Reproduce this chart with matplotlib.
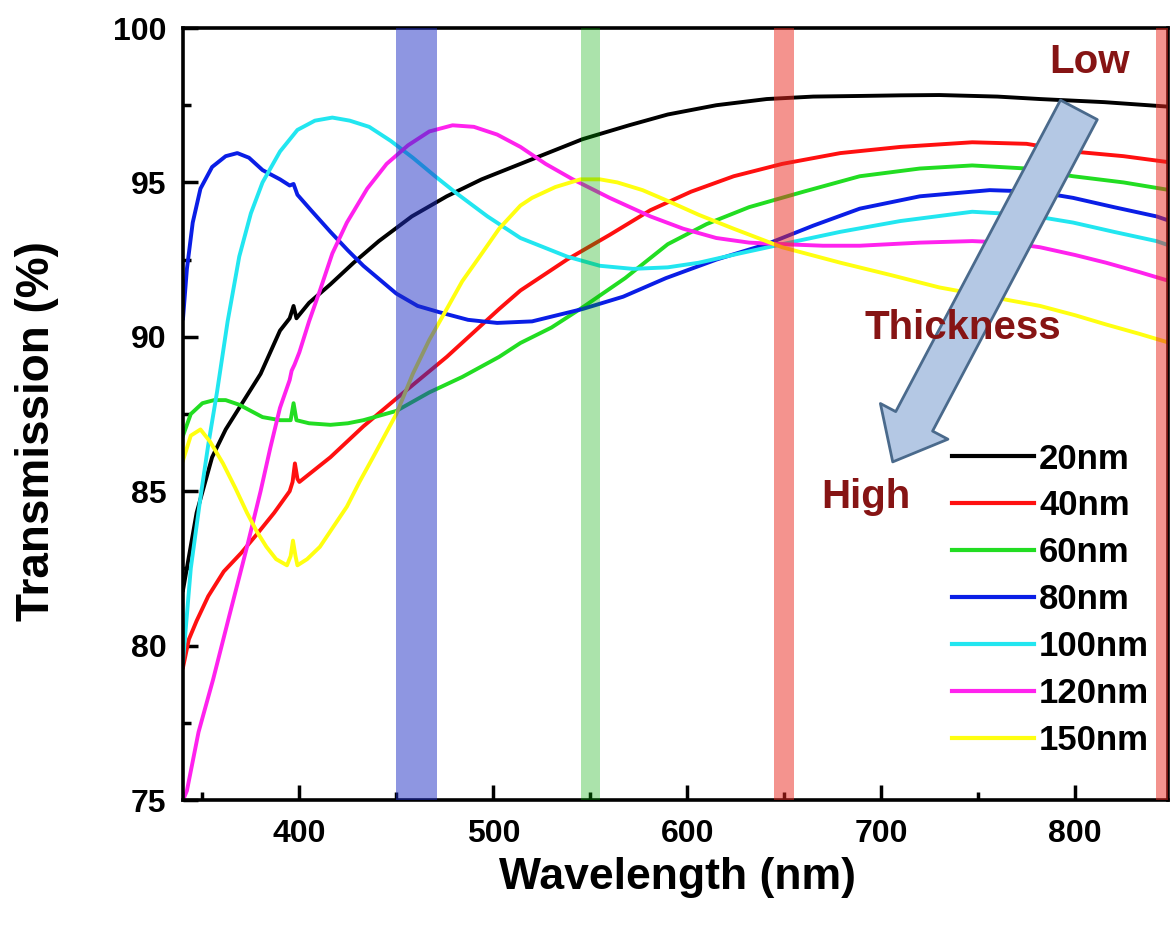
import matplotlib
matplotlib.use("Agg")
import matplotlib.pyplot as plt
from matplotlib.ticker import MultipleLocator

plt.rcParams["font.family"] = ["Liberation Sans", "DejaVu Sans"]
plt.rcParams["font.weight"] = "bold"

# transmission spectra (wavelength in nm, T in %)
wl_20 = [340, 347, 355, 362, 370, 380, 390, 395, 397, 398.5, 405, 416, 428, 441, 458, 476,
         494, 514, 530, 546, 570, 590, 615, 641, 665, 689, 710, 730, 760, 782, 815, 849]
t_20 = [81.8, 84.3, 86.1, 87.0, 87.8, 88.8, 90.2, 90.6, 91.0, 90.6, 91.1, 91.7, 92.4, 93.1, 93.9, 94.55,
        95.1, 95.6, 96.0, 96.4, 96.85, 97.2, 97.5, 97.7, 97.78, 97.8, 97.82, 97.83, 97.78, 97.7, 97.6, 97.45]

wl_40 = [340, 343, 347, 353, 361, 370, 378, 387, 395, 396.5, 397.7, 399, 400, 408, 416, 433, 450,
         476, 503, 514, 538, 560, 581, 602, 624, 649, 679, 710, 747, 775, 799, 825, 849]
t_40 = [79.3, 80.2, 80.8, 81.6, 82.4, 83.0, 83.6, 84.3, 85.0, 85.3, 85.9, 85.4, 85.3, 85.7, 86.1, 87.1, 88.0,
        89.35, 90.9, 91.5, 92.5, 93.3, 94.1, 94.7, 95.2, 95.6, 95.95, 96.15, 96.3, 96.25, 96.0, 95.85, 95.65]

wl_60 = [340, 344, 350, 356, 362, 369, 375, 381, 390, 395.5, 397, 398.5, 405, 416, 425, 433, 450,
         467, 484, 503, 514, 530, 546, 568, 590, 610, 632, 660, 689, 720, 747, 775, 799, 825, 849]
t_60 = [86.8, 87.5, 87.85, 87.95, 87.95, 87.8, 87.6, 87.4, 87.3, 87.3, 87.85, 87.3, 87.2, 87.15, 87.2, 87.3, 87.6,
        88.2, 88.7, 89.35, 89.8, 90.3, 90.95, 91.9, 93.0, 93.65, 94.2, 94.7, 95.2, 95.45, 95.55, 95.45, 95.2, 95.0, 94.75]

wl_80 = [340, 342, 345, 349, 355, 362, 368, 374, 381, 390, 395, 397, 399, 406, 416, 425, 433, 450, 461,
         472, 487, 502, 520, 546, 567, 589, 615, 641, 665, 689, 720, 756, 780, 799, 820, 842, 849]
t_80 = [90.6, 92.2, 93.7, 94.8, 95.5, 95.85, 95.95, 95.8, 95.4, 95.1, 94.9, 94.95, 94.6, 94.1, 93.4, 92.8, 92.3, 91.4, 91.0,
        90.8, 90.55, 90.45, 90.5, 90.9, 91.3, 91.9, 92.5, 93.0, 93.6, 94.15, 94.55, 94.75, 94.7, 94.5, 94.2, 93.9, 93.75]

wl_100 = [340, 344, 349, 353, 357.5, 363, 369, 375, 381, 390, 399, 408, 417, 426, 436, 447, 458.5, 470,
          481, 497, 514, 538, 555, 572, 590, 606, 627, 649, 679, 710, 747, 775, 799, 820, 842, 849]
t_100 = [79.5, 82.5, 84.8, 86.5, 88.2, 90.5, 92.6, 94.0, 95.0, 96.0, 96.7, 97.0, 97.1, 97.0, 96.8, 96.35, 95.8, 95.2,
         94.65, 93.9, 93.2, 92.6, 92.3, 92.2, 92.25, 92.4, 92.7, 93.0, 93.4, 93.75, 94.05, 93.95, 93.7, 93.4, 93.1, 92.95]

wl_120 = [340, 342, 348, 355.5, 364, 373, 380, 385, 390, 395, 396, 397.5, 400, 405, 410.6, 417, 424.5, 435,
          445, 456, 467, 479, 490, 502, 514, 527, 541, 560, 581, 598, 615, 632, 649, 670, 689, 720, 747,
          765, 782, 800, 816, 833, 849]
t_120 = [75.0, 75.3, 77.2, 78.9, 81.0, 83.2, 85.0, 86.4, 87.7, 88.6, 88.9, 89.1, 89.5, 90.5, 91.5, 92.7, 93.7, 94.8,
         95.6, 96.2, 96.65, 96.85, 96.8, 96.55, 96.15, 95.6, 95.1, 94.5, 93.9, 93.5, 93.2, 93.05, 93.0, 92.95, 92.95, 93.05, 93.1,
         93.05, 92.9, 92.65, 92.4, 92.1, 91.8]

wl_150 = [340, 344, 349, 354, 360.6, 367, 373, 378, 383, 388, 393.6, 395.5, 396.7, 398, 399, 404, 410.6, 417,
          424.5, 431, 438, 444, 450, 458.5, 467, 476, 484, 493, 503, 514, 520, 532, 545, 555, 564, 577, 590,
          606, 624, 649, 679, 705, 730, 756, 782, 800, 816, 833, 849]
t_150 = [86.0, 86.8, 87.0, 86.6, 85.9, 85.1, 84.3, 83.7, 83.2, 82.8, 82.6, 82.9, 83.4, 82.9, 82.6, 82.8, 83.2, 83.8,
         84.5, 85.3, 86.1, 86.8, 87.5, 88.8, 89.9, 90.9, 91.8, 92.6, 93.5, 94.25, 94.5, 94.85, 95.1, 95.1, 95.0, 94.75, 94.4,
         93.95, 93.5, 92.9, 92.4, 92.0, 91.6, 91.3, 91.0, 90.7, 90.4, 90.1, 89.8]

labels = ["20nm", "40nm", "60nm", "80nm", "100nm", "120nm", "150nm"]
colors = ["#000000", "#ff1010", "#22dd22", "#0a1ee6", "#22e6f0", "#ff22ee", "#ffff10"]
series = [(wl_20, t_20), (wl_40, t_40), (wl_60, t_60), (wl_80, t_80),
          (wl_100, t_100), (wl_120, t_120), (wl_150, t_150)]

# highlighted wavelength bands (start, end)
band_ranges = [(450, 471), (545, 555), (645, 655), (842, 849)]
band_colors = ["#1f2ec4", "#00aa00", "#eb281e", "#eb281e"]
band_alpha = [0.5, 0.33, 0.5, 0.5]

fig = plt.figure(figsize=(11.71, 9.31), dpi=100)
ax = fig.add_axes([0.1563, 0.1407, 0.8412, 0.8292])

for (wl, t), lab, col in zip(series, labels, colors):
    ax.plot(wl, t, color=col, lw=2.8, label=lab, zorder=2, solid_joinstyle="round")

for (a, b), col, al in zip(band_ranges, band_colors, band_alpha):
    ax.axvspan(a, b, color=col, alpha=al, lw=0, zorder=3)

ax.set_xlim(340, 848)
ax.set_ylim(75, 100)
ax.xaxis.set_major_locator(MultipleLocator(100))
ax.xaxis.set_minor_locator(MultipleLocator(50))
ax.yaxis.set_major_locator(MultipleLocator(5))
ax.yaxis.set_minor_locator(MultipleLocator(2.5))
ax.tick_params(which="both", direction="in", width=2.5, labelsize=23)
ax.tick_params(which="major", length=11)
ax.tick_params(which="minor", length=6)
ax.tick_params(axis="x", pad=14)
ax.tick_params(axis="y", pad=12)
for sp in ax.spines.values():
    sp.set_linewidth(2.6)

ax.set_xlabel("Wavelength (nm)", fontsize=32, fontweight="bold", va="center")
ax.set_ylabel("Transmission (%)", fontsize=33, fontweight="bold", va="center")
ax.xaxis.set_label_coords(0.502, -0.1)
ax.yaxis.set_label_coords(-0.148, 0.478)

# thickness arrow
ax.annotate("", xy=(706, 85.95), xytext=(802, 97.35),
            arrowprops=dict(arrowstyle="simple,head_length=3.3,head_width=5.5,tail_width=3.0",
                            mutation_scale=10, fc="#b4c8e4", ec="#4a6a8c", lw=2,
                            shrinkA=0, shrinkB=0),
            zorder=4)

txt_color = "#861414"
ax.text(807.5, 98.9, "Low", fontsize=29, fontweight="bold", color=txt_color,
        ha="center", va="center", zorder=5)
ax.text(742, 90.28, "Thickness", fontsize=29, fontweight="bold", color=txt_color,
        ha="center", va="center", zorder=5)
ax.text(692, 84.8, "High", fontsize=29, fontweight="bold", color=txt_color,
        ha="center", va="center", zorder=5)

leg = ax.legend(loc="upper left", bbox_to_anchor=(0.781, 0.463), frameon=False,
                prop={"weight": "bold", "size": 25}, handlelength=2.35, handletextpad=0.15,
                labelspacing=0.4, borderpad=0, borderaxespad=0)
for line in leg.get_lines():
    line.set_linewidth(3)
leg.set_zorder(6)

fig.savefig("out.png", dpi=100)
